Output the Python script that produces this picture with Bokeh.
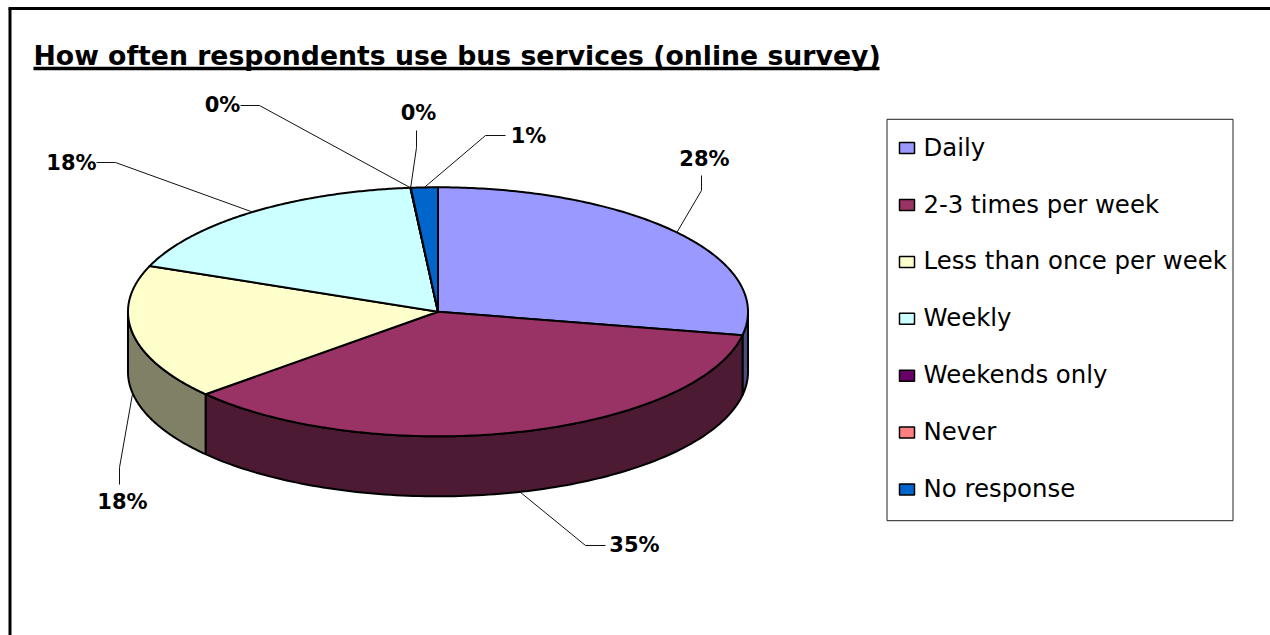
import numpy as np
from bokeh.plotting import figure
from bokeh.models import Range1d
from bokeh.core.properties import value
from bokeh.embed import file_html
from bokeh.resources import INLINE

# ---- data ----
categories = ["Daily", "2-3 times per week", "Less than once per week", "Weekly",
              "Weekends only", "Never", "No response"]
shares = [28.0, 35.49, 17.51, 17.58, 0.01, 0.01, 1.4]
title_text = "How often respondents use bus services (online survey)"

# ---- styles ----
top_colors = ["#9999FF", "#993366", "#FFFFCC", "#CCFFFF", "#660066", "#FF8080", "#0066CC"]
side_colors = ["#4C4C80", "#4D1A33", "#808066", "#668080", "#330033", "#804040", "#003366"]
FONT = "DejaVu Sans"

# ---- layout (page pixels) ----
CX, CY, RX, RY, DEPTH = 437.5, 311.3, 310.0, 124.5, 60.0
leader_via = [[(701, 190), (701, 175)], [(585, 545), (605, 545)], [(119, 467), (119, 484)],
              [(115, 162), (96, 162)], [(259, 105), (240, 105)], [(416, 147), (416, 130)],
              [(485, 135), (505, 135)]]
label_pos = [(704, 158), (634, 544), (122, 501), (71, 162), (222, 104), (418, 112), (528, 135)]
leader_side = [False, True, True, False, False, False, False]
LEG_X0, LEG_X1, LEG_Y0, LEG_Y1 = 886.5, 1232.5, 118.8, 520.2
LEG_FIRST, LEG_STEP = 147.6, 56.9

p = figure(width=1270, height=635, output_backend="svg", toolbar_location=None,
           x_range=Range1d(0, 1270), y_range=Range1d(635, 0), min_border=0,
           outline_line_color=None, background_fill_color="white", border_fill_color="white")
p.axis.visible = False
p.grid.visible = False

# outer frame: top and left edges only
p.line([8, 1270], [8, 8], line_color="black", line_width=3)
p.line([9.5, 9.5], [8, 635], line_color="black", line_width=3)


def rim(deg):
    a = np.radians(deg)
    return CX + RX * np.sin(a), CY - RY * np.cos(a)


edges = np.concatenate([[0.0], np.cumsum(shares)]) * 3.6

# side wall
for i in range(len(shares)):
    lo, hi = max(edges[i], 90.0), min(edges[i + 1], 270.0)
    if hi <= lo:
        continue
    t = np.linspace(lo, hi, 120)
    x, y = rim(t)
    p.patch(list(x) + list(x[::-1]), list(y) + list((y + DEPTH)[::-1]),
            fill_color=side_colors[i], line_color="black", line_width=2, line_join="round")

# top faces
for i in range(len(shares)):
    t = np.linspace(edges[i], edges[i + 1], 160)
    x, y = rim(t)
    p.patch([CX] + list(x), [CY] + list(y), fill_color=top_colors[i],
            line_color="black", line_width=2, line_join="round")

# leaders and data labels
for i, s in enumerate(shares):
    mid = (edges[i] + edges[i + 1]) / 2
    sx, sy = rim(mid)
    if leader_side[i]:
        sy += DEPTH
    xs = [sx] + [q[0] for q in leader_via[i]]
    ys = [sy] + [q[1] for q in leader_via[i]]
    p.line(xs, ys, line_color="#111111", line_width=1)
    p.text([label_pos[i][0]], [label_pos[i][1]], text=[f"{s:.0f}%"], text_color="black",
           text_font=value(FONT), text_font_style="bold", text_font_size="21px",
           text_align="center", text_baseline="middle")

# title
p.text([33], [55], text=[title_text], text_color="black", text_font=value(FONT),
       text_font_style="bold", text_font_size="26.7px", text_align="left", text_baseline="middle")
p.line([33, 879], [68, 68], line_color="black", line_width=3.5)

# legend
p.quad(left=[LEG_X0], right=[LEG_X1], top=[LEG_Y0], bottom=[LEG_Y1],
       fill_color="white", line_color="#222222", line_width=1)
rows = [LEG_FIRST + LEG_STEP * i for i in range(len(categories))]
p.rect([906.5] * len(rows), rows, width=15, height=11, fill_color=top_colors,
       line_color="black", line_width=1.5)
p.text([923] * len(rows), [r - 1 for r in rows], text=categories, text_color="black",
       text_font=value(FONT), text_font_size="24.4px", text_align="left", text_baseline="middle")

open("out.html", "w").write(file_html(p, INLINE))
